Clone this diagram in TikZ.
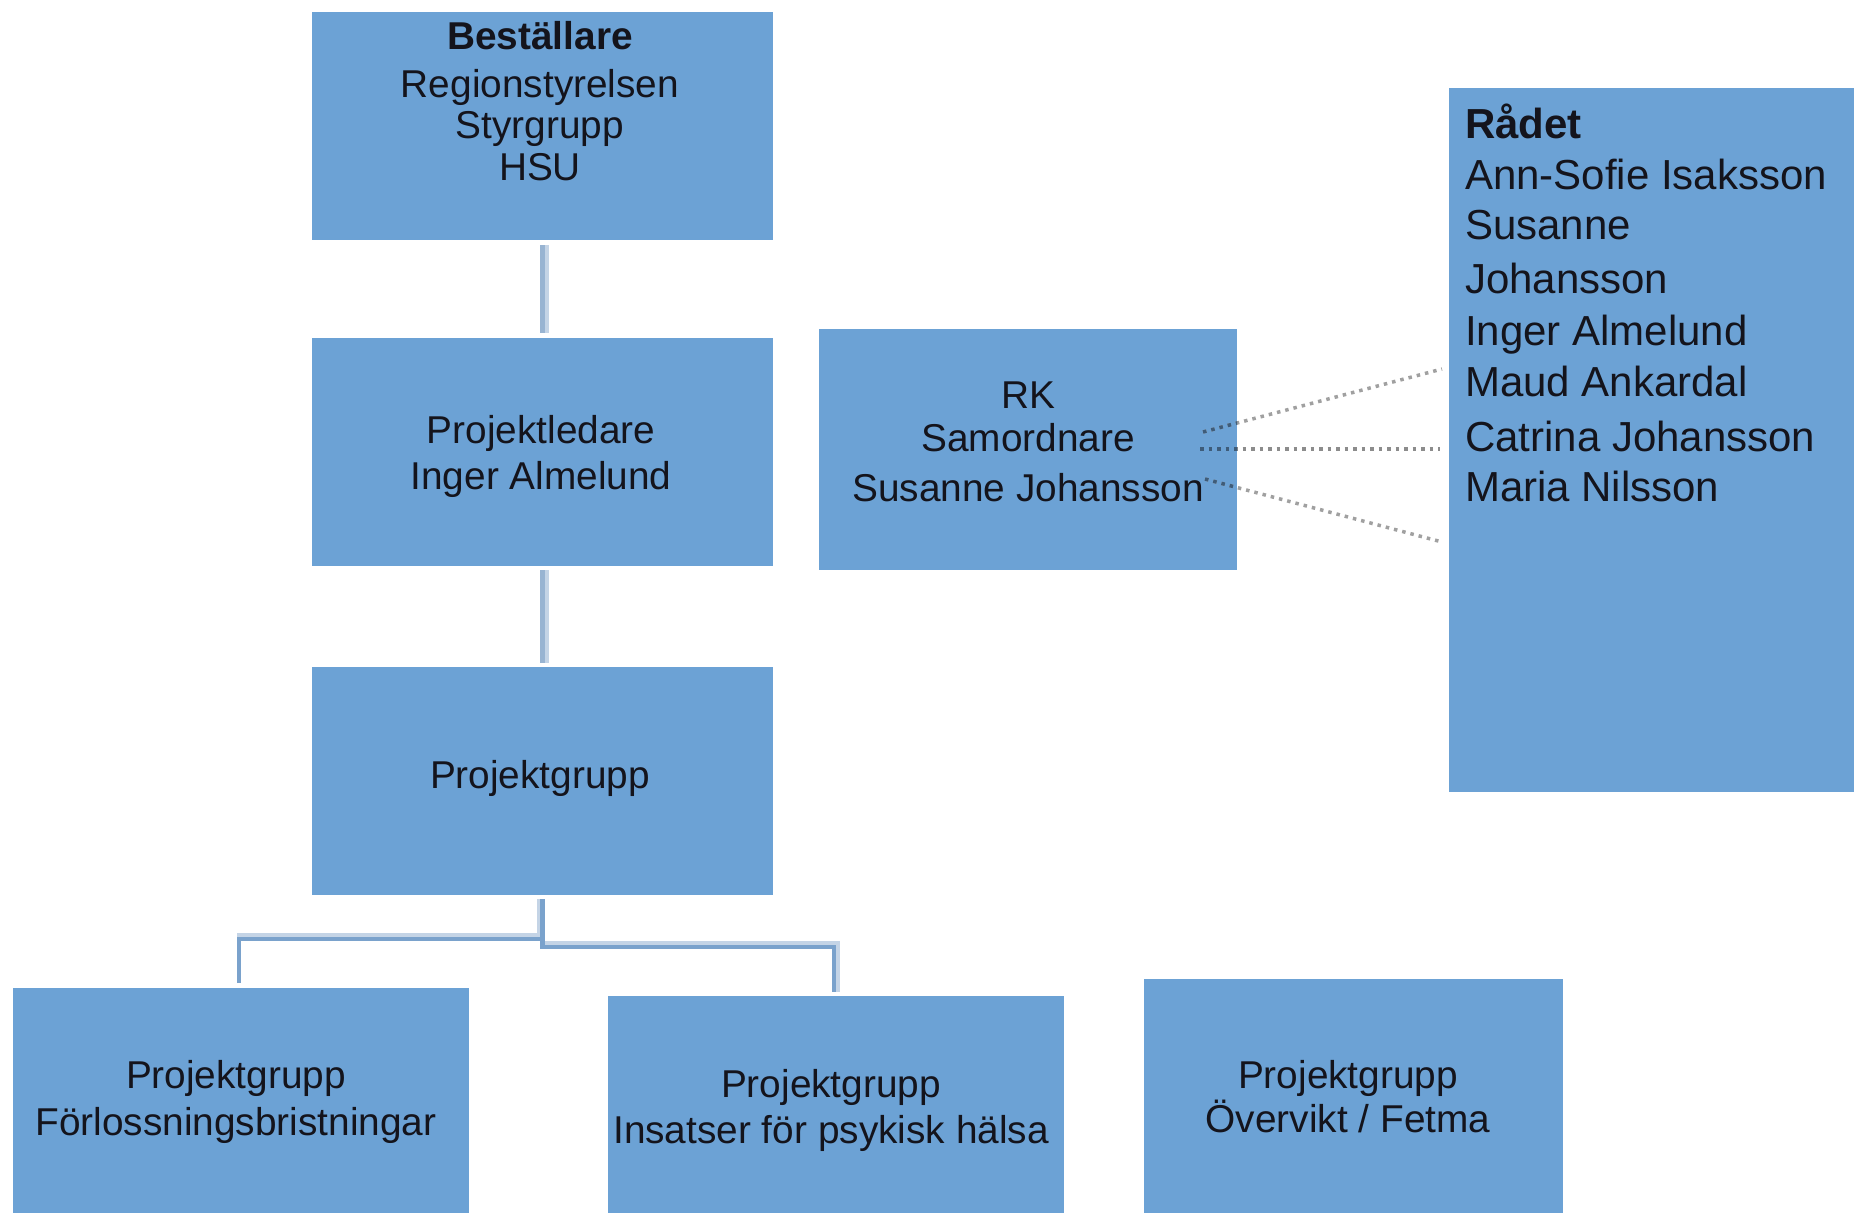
\documentclass[tikz,border=0pt]{standalone}
\usepackage{fontspec}
\setmainfont{Liberation Sans}
\usetikzlibrary{calc}
\definecolor{boxblue}{RGB}{108,162,213}
\definecolor{conDark}{RGB}{122,162,204}
\definecolor{conLight}{RGB}{196,212,230}
\definecolor{conMid}{RGB}{152,180,210}
\definecolor{dotgray}{RGB}{140,140,140}
\definecolor{dotgrayl}{RGB}{160,160,160}
\definecolor{dotdark}{RGB}{62,92,122}
\definecolor{txtcol}{RGB}{20,20,28}
\newcommand\boxfont{\fontsize{38.8}{46}\selectfont}
\newcommand\radfont{\fontsize{42}{50}\selectfont}
\begin{document}
\begin{tikzpicture}[x=1pt,y=-1pt,
  box/.style={fill=boxblue, draw=none, inner sep=0pt, outer sep=0pt, anchor=north west},
  txt/.style={anchor=base, inner sep=0pt, outer sep=0pt, font=\boxfont, text=txtcol},
  radtxt/.style={anchor=base west, inner sep=0pt, outer sep=0pt, font=\radfont, text=txtcol},
  conV/.style={draw=conMid, line width=5pt},
  conVL/.style={draw=conLight, line width=4pt},
  conD/.style={draw=conDark, line width=4.5pt},
  conL/.style={draw=conLight, line width=4pt},
  dotl/.style={draw=dotgray, line width=3.5pt, dash pattern=on 3.5pt off 5pt},
  dotll/.style={draw=dotgrayl, line width=3.5pt, dash pattern=on 3.5pt off 5pt},
  dotd/.style={draw=dotdark, line width=3.5pt, dash pattern=on 3.5pt off 5pt}]
\useasboundingbox (0,0) rectangle (1854,1213);

% boxes
\node[box, minimum width=461pt, minimum height=228pt] (bes) at (312,12) {};
\node[box, minimum width=461pt, minimum height=228pt] (pl)  at (312,338) {};
\node[box, minimum width=461pt, minimum height=228pt] (pg)  at (312,667) {};
\node[box, minimum width=456pt, minimum height=225pt] (fb)  at (13,988) {};
\node[box, minimum width=456pt, minimum height=217pt] (ins) at (608,996) {};
\node[box, minimum width=419pt, minimum height=234pt] (ov)  at (1144,979) {};
\node[box, minimum width=418pt, minimum height=241pt] (rk)  at (819,329) {};
\node[box, minimum width=405pt, minimum height=704pt] (rad) at (1449,88) {};

% texts
\node[txt, font=\boxfont\bfseries] (t1a) at (540,49) {Beställare};
\node[txt] (t1b) at (540,97) {Regionstyrelsen};
\node[txt] (t1c) at (540,138) {Styrgrupp};
\node[txt] (t1d) at (540,180) {HSU};

\node[txt] (t2a) at (541,443) {Projektledare};
\node[txt] (t2b) at (541,489) {Inger Almelund};

\node[txt] (t3a) at (540,788) {Projektgrupp};

\node[txt] (t4a) at (236,1088) {Projektgrupp};
\node[txt] (t4b) at (236,1135) {Förlossningsbristningar};

\node[txt] (t5a) at (831,1097) {Projektgrupp};
\node[txt] (t5b) at (831,1143) {Insatser för psykisk hälsa};

\node[txt] (t6a) at (1348,1088) {Projektgrupp};
\node[txt] (t6b) at (1348,1132) {Övervikt / Fetma};

\node[txt] (t7a) at (1028,408) {RK};
\node[txt] (t7b) at (1028,451) {Samordnare};
\node[txt] (t7c) at (1028,501) {Susanne Johansson};

\node[radtxt, font=\radfont\bfseries] (r1) at (1465,138) {Rådet};
\node[radtxt] (r2) at (1465,189) {Ann-Sofie Isaksson};
\node[radtxt] (r3) at (1465,239) {Susanne};
\node[radtxt] (r4) at (1465,293) {Johansson};
\node[radtxt] (r5) at (1465,345) {Inger Almelund};
\node[radtxt] (r6) at (1465,396) {Maud Ankardal};
\node[radtxt] (r7) at (1465,451) {Catrina Johansson};
\node[radtxt] (r8) at (1465,501) {Maria Nilsson};

% vertical connectors
\coordinate (cx) at (542.5,0);
\coordinate (cxl) at (547,0);
\draw[conV]  ($(bes.south -| cx)+(0,5)$) -- ($(pl.north -| cx)+(0,-5)$);
\draw[conVL] ($(bes.south -| cxl)+(0,5)$) -- ($(pl.north -| cxl)+(0,-5)$);
\draw[conV]  ($(pl.south -| cx)+(0,4)$) -- ($(pg.north -| cx)+(0,-4)$);
\draw[conVL] ($(pl.south -| cxl)+(0,4)$) -- ($(pg.north -| cxl)+(0,-4)$);

% tree below Projektgrupp
\coordinate (jL) at (239,939);
\coordinate (jR) at (834,947);
\draw[conL] ($(jL)+(-2,-4)$) -- ($(cx |- jL)+(-2,-4)$);
\draw[conL] ($(cx |- jR)+(0,-4)$) -| ($(ins.north -| jR)+(4,-4)$);
\draw[conL, line width=3pt] ($(pg.south -| cx)+(-4,4)$) -- ($(cx |- jL)+(-4,-2)$);
\draw[conD, line width=5pt] ($(pg.south -| cx)+(0,4)$) -- ($(cx |- jR)+(0,2)$);
\draw[conD] ($(fb.north -| jL)+(0,-5)$) |- (cx |- jL);
\draw[conD] (cx |- jR) -| ($(ins.north -| jR)+(0,-4)$);

% dotted links RK -> Rådet
\coordinate (u1) at (1203,432); \coordinate (u2) at (1442,369);
\coordinate (m1) at (1200,449); \coordinate (m2) at (1440,449);
\coordinate (l1) at (1205,479); \coordinate (l2) at (1442,542);
\draw[dotll] (u1) -- (u2);
\draw[dotl] (m1) -- (m2);
\draw[dotll] (l1) -- (l2);
\begin{scope}
  \clip (rk.north west) rectangle (rk.south east);
  \draw[dotd] (u1) -- (u2);
  \draw[dotd] (m1) -- (m2);
  \draw[dotd] (l1) -- (l2);
\end{scope}
\end{tikzpicture}
\end{document}
